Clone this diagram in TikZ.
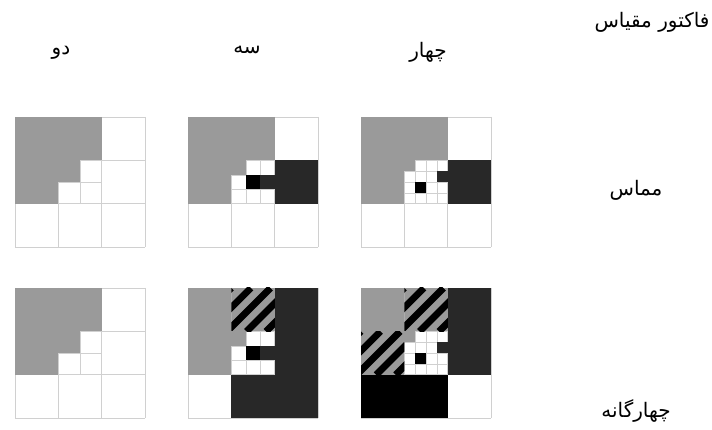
\documentclass[tikz,border=0pt]{standalone}
\usepackage{fontspec}
\newfontfamily\arabicfont[Script=Arabic]{DejaVu Sans}
\TeXXeTstate=1
\definecolor{cgray}{HTML}{9A9A9A}
\definecolor{cdark}{HTML}{282828}
\definecolor{cline}{HTML}{D0D0D0}
\tikzset{
  lbl/.style={font=\arabicfont\fontsize{20}{24}\selectfont, inner sep=0pt, anchor=center},
  gridline/.style={draw=cline, line width=0.7pt},
}
% main 3x3 grid lines
\newcommand\maingrid{\foreach \t in {0,...,3}{
  \draw[gridline] (\t,0) -- (\t,3);
  \draw[gridline] (0,\t) -- (3,\t);}}
% cell fill in unit coordinates
\newcommand\cellfill[3]{\fill[#3] (#1,#2) rectangle ++(1,1);}
% sub cell of middle cell: n, i, j, color
\newcommand\subcell[4]{\fill[#4] ({1+#2/#1},{1+#3/#1}) rectangle ({1+(#2+1)/#1},{1+(#3+1)/#1});}
% sub grid lines of middle cell: n, n-1
\newcommand\subgrid[2]{\foreach \t in {1,...,#2}{
  \draw[gridline] ({1+\t/#1},1) -- ({1+\t/#1},2);
  \draw[gridline] (1,{1+\t/#1}) -- (2,{1+\t/#1});}}
\newcommand\hatchcell[2]{%
  \begin{scope}
    \clip (#1,#2) rectangle ++(1,1);
    \fill[cgray] (#1,#2) rectangle ++(1,1);
    \foreach \k in {0,...,5}{
      \draw[black, line width=6.8pt] ({#1-1+\k*0.45},{#2+1}) -- ({#1+\k*0.45},#2);}
  \end{scope}}
\begin{document}
\begin{tikzpicture}[x=1pt,y=-1pt]
\useasboundingbox (0,0) rectangle (712,430);
\fill[white] (0,0) rectangle (712,430);

% ---------- Grid 1: tangent, factor 2
\begin{scope}[shift={(15,117)}, x=43.4pt, y=-43.4pt]
  \maingrid
  \subgrid{2}{1}
  \cellfill{0}{0}{cgray}\cellfill{1}{0}{cgray}\cellfill{0}{1}{cgray}
  \subcell{2}{0}{0}{cgray}
\end{scope}

% ---------- Grid 2: tangent, factor 3
\begin{scope}[shift={(188,117)}, x=43.4pt, y=-43.4pt]
  \maingrid
  \subgrid{3}{2}
  \cellfill{0}{0}{cgray}\cellfill{1}{0}{cgray}\cellfill{0}{1}{cgray}
  \cellfill{2}{1}{cdark}
  \subcell{3}{0}{0}{cgray}
  \subcell{3}{1}{1}{black}
  \subcell{3}{2}{1}{cdark}
\end{scope}

% ---------- Grid 3: tangent, factor 4
\begin{scope}[shift={(361,117)}, x=43.4pt, y=-43.4pt]
  \maingrid
  \subgrid{4}{3}
  \cellfill{0}{0}{cgray}\cellfill{1}{0}{cgray}\cellfill{0}{1}{cgray}
  \cellfill{2}{1}{cdark}
  \subcell{4}{0}{0}{cgray}
  \subcell{4}{1}{2}{black}
  \subcell{4}{3}{1}{cdark}
\end{scope}

% ---------- Grid 4: quadtree, factor 2
\begin{scope}[shift={(15,288)}, x=43.4pt, y=-43.4pt]
  \maingrid
  \subgrid{2}{1}
  \cellfill{0}{0}{cgray}\cellfill{1}{0}{cgray}\cellfill{0}{1}{cgray}
  \subcell{2}{0}{0}{cgray}
\end{scope}

% ---------- Grid 5: quadtree, factor 3
\begin{scope}[shift={(188,288)}, x=43.4pt, y=-43.4pt]
  \maingrid
  \subgrid{3}{2}
  \cellfill{0}{0}{cgray}\hatchcell{1}{0}\cellfill{2}{0}{cdark}
  \cellfill{0}{1}{cgray}\cellfill{2}{1}{cdark}
  \cellfill{1}{2}{cdark}\cellfill{2}{2}{cdark}
  \subcell{3}{0}{0}{cgray}
  \subcell{3}{1}{1}{black}
  \subcell{3}{2}{1}{cdark}
\end{scope}

% ---------- Grid 6: quadtree, factor 4
\begin{scope}[shift={(361,288)}, x=43.4pt, y=-43.4pt]
  \maingrid
  \subgrid{4}{3}
  \cellfill{0}{0}{cgray}\hatchcell{1}{0}\cellfill{2}{0}{cdark}
  \hatchcell{0}{1}\cellfill{2}{1}{cdark}
  \cellfill{0}{2}{black}\cellfill{1}{2}{black}
  \subcell{4}{0}{0}{cgray}
  \subcell{4}{1}{2}{black}
  \subcell{4}{3}{1}{cdark}
\end{scope}

% ---------- labels
\node[lbl] (title) at (652,22) {\beginR فاکتور مقیاس\endR};
\node[lbl] (two) at (61,53) {\beginR دو\endR};
\node[lbl] (three) at (247,50) {\beginR سه\endR};
\node[lbl] (four) at (428,52) {\beginR چهار\endR};
\node[lbl] (tangent) at (636,190) {\beginR مماس\endR};
\node[lbl] (quad) at (636,411) {\beginR چهارگانه\endR};
\end{tikzpicture}
\end{document}
